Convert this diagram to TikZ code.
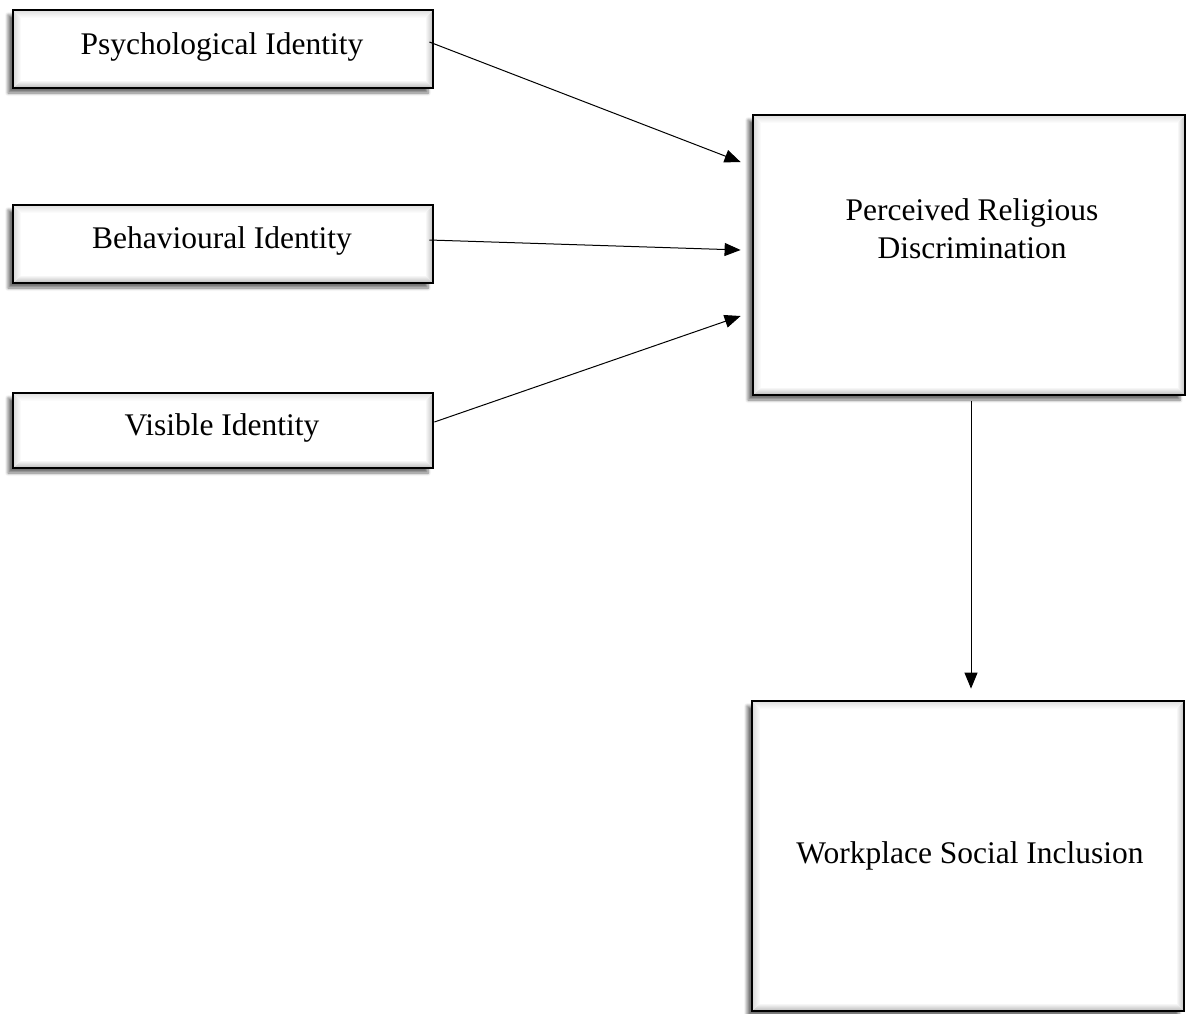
\documentclass[tikz,border=0pt]{standalone}
\usepackage{fontspec}
\setmainfont{Liberation Serif}
\usetikzlibrary{arrows.meta,calc,shadows.blur}
\begin{document}
\begin{tikzpicture}[x=1pt,y=-1pt,
  bevelbox/.style={draw=black, line width=2.8pt, fill=white, inner sep=0pt,
    blur shadow={shadow xshift=-5pt, shadow yshift=-5pt, shadow blur steps=6, shadow blur radius=3pt, shadow opacity=55},
    path picture={
      \coordinate (bl) at (path picture bounding box.south west);
      \coordinate (tr) at (path picture bounding box.north east);
      \coordinate (br) at (bl -| tr);
      \coordinate (tl) at (tr -| bl);
      \shade[top color=white, bottom color=gray!55] (bl) -- (br) -- ($(br)+(-8pt,8pt)$) -- ($(bl)+(8pt,8pt)$) -- cycle;
      \shade[left color=white, right color=gray!50] (br) -- (tr) -- ($(tr)+(-8pt,-8pt)$) -- ($(br)+(-8pt,8pt)$) -- cycle;
      \shade[left color=gray!30, right color=white] (bl) -- (tl) -- ($(tl)+(8pt,-8pt)$) -- ($(bl)+(8pt,8pt)$) -- cycle;
      \shade[top color=gray!25, bottom color=white] (tl) -- (tr) -- ($(tr)+(-8pt,-8pt)$) -- ($(tl)+(8pt,-8pt)$) -- cycle;
    }},
  lbl/.style={font=\fontsize{31.5}{38}\selectfont, align=center, inner sep=0pt},
  conn/.style={line width=1pt, -{Triangle[length=16pt,width=13pt]}}
]
\useasboundingbox (0,0) rectangle (1188,1013);
% boxes
\node[bevelbox, minimum width=420pt, minimum height=78pt] (psych) at (223,49) {};
\node[bevelbox, minimum width=420pt, minimum height=78pt] (behav) at (223,244) {};
\node[bevelbox, minimum width=420pt, minimum height=75pt] (vis) at (223,430.5) {};
\node[bevelbox, minimum width=432pt, minimum height=280pt] (perc) at (969,255) {};
\node[bevelbox, minimum width=432pt, minimum height=310pt] (work) at (968,856) {};
% texts
\node[lbl] (tpsych) at (222,47) {Psychological Identity};
\node[lbl] (tbehav) at (222,241) {Behavioural Identity};
\node[lbl] (tvis) at (222,428) {Visible Identity};
\node[lbl] (tperc) at (972,229) {Perceived Religious\\Discrimination};
\node[lbl] (twork) at (970,856) {Workplace Social Inclusion};
% connectors
\draw[conn] ([xshift=-5pt,yshift=7pt]psych.east) -- ([xshift=-11pt,yshift=93pt]perc.west);
\draw[conn] ([xshift=-5pt,yshift=4pt]behav.east) -- ([xshift=-11pt,yshift=5pt]perc.west);
\draw[conn] ([xshift=0pt,yshift=8.5pt]vis.east) -- ([xshift=-11pt,yshift=-61pt]perc.west);
\draw[conn] ([xshift=2pt,yshift=-5pt]perc.south) -- ([xshift=3pt,yshift=11pt]work.north);
\end{tikzpicture}
\end{document}
